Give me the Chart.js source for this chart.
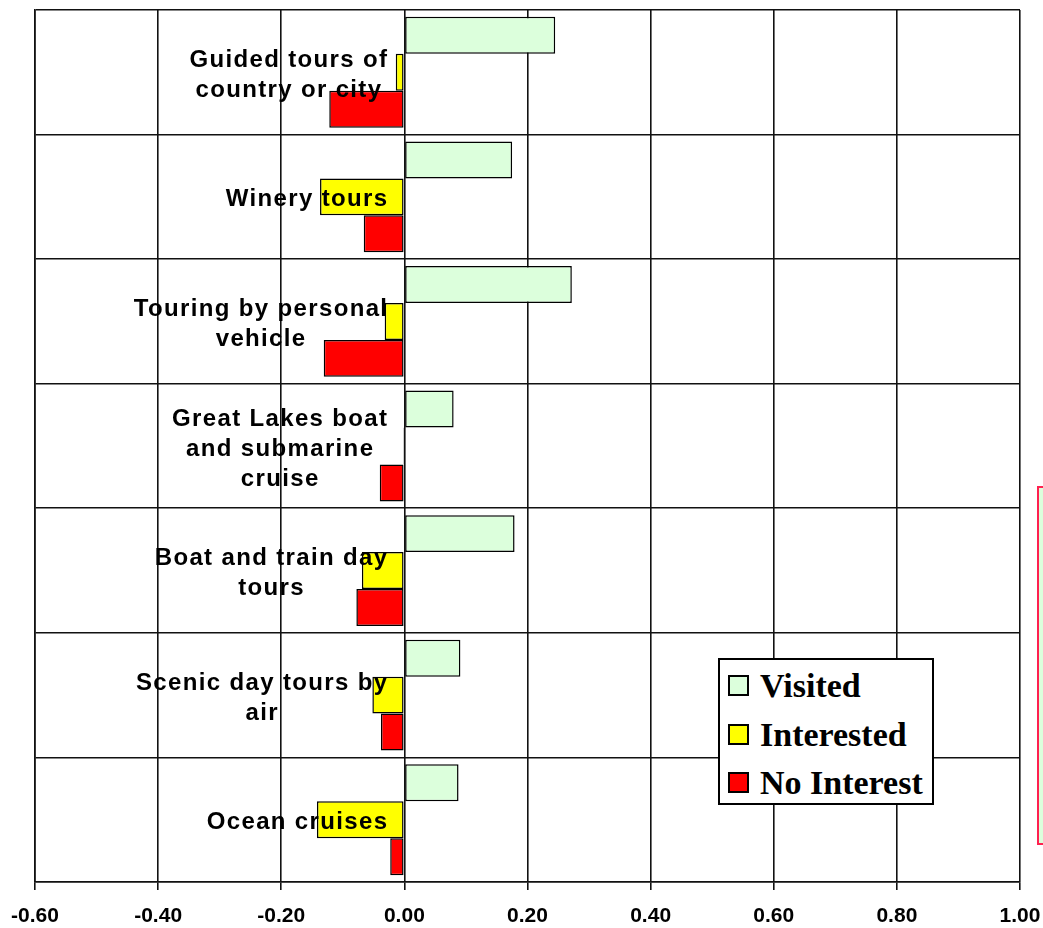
<!DOCTYPE html>
<html lang="en">
<head>
    <meta charset="UTF-8">
    <title>Tour interest</title>
    <script src="https://cdn.jsdelivr.net/npm/chart.js"></script>
    <style>
      body { margin: 0; background: #fff; }
      #wrap { position: relative; width: 1043px; height: 928px; overflow: hidden; }
      #legend {
        position: absolute; left: 718px; top: 658px; width: 212px; height: 143px;
        background: #fff; border: 2px solid #000;
        font: bold 34px "Liberation Serif", "Times New Roman", serif; color: #000;
      }
      #legend div { position: absolute; left: 8px; height: 40px; line-height: 40px; white-space: nowrap; }
      #legend span.box {
        display: inline-block; width: 17px; height: 17px; border: 2px solid #000;
        margin-right: 11px; vertical-align: 1px;
      }
      #sidebox {
        position: absolute; left: 1037px; top: 486px; width: 20px; height: 355px;
        border: 2px solid #ff2050; background: #dcffdc;
      }
    </style>
</head>
<body>
      <div id="wrap">
        <canvas id="myChart"></canvas>
        <div id="legend"></div>
        <div id="sidebox"></div>
      </div>

      <script>
        const categories = [
          ['Guided tours of', 'country or city'],
          ['Winery tours'],
          ['Touring by personal', 'vehicle'],
          ['Great Lakes boat', 'and submarine', 'cruise'],
          ['Boat and train day', 'tours'],
          ['Scenic day tours by', 'air'],
          ['Ocean cruises']
        ]

        const seriesNames = ['Visited', 'Interested', 'No Interest']
        const seriesColors = ['#dcffdc', '#ffff00', '#ff0000']

        const visited    = [0.245, 0.175, 0.272, 0.080, 0.179, 0.091, 0.088]
        const interested = [-0.014, -0.137, -0.032, -0.002, -0.069, -0.052, -0.142]
        const noInterest = [-0.122, -0.066, -0.131, -0.040, -0.078, -0.038, -0.023]

        const xTicks = [-0.6, -0.4, -0.2, 0, 0.2, 0.4, 0.6, 0.8, 1.0]

        // category names sit inside the plot, just left of the zero line, on top of the bars
        const categoryLabels = {
          id: 'categoryLabels',
          afterDatasetsDraw(chart) {
            const ctx = chart.ctx
            const x = chart.scales.x
            const y = chart.scales.y
            const lineH = 30
            ctx.save()
            ctx.font = 'bold 24px "Liberation Sans", Arial, sans-serif'
            ctx.letterSpacing = '1.35px'
            ctx.fillStyle = '#000'
            ctx.textAlign = 'center'
            ctx.textBaseline = 'alphabetic'
            const right = x.getPixelForValue(0) - 16
            chart.data.labels.forEach((lines, i) => {
              const w = Math.max(...lines.map(s => ctx.measureText(s).width))
              const cx = right - w / 2
              const cy = y.getPixelForValue(i)
              lines.forEach((s, j) => {
                ctx.fillText(s, cx, cy + (j - (lines.length - 1) / 2) * lineH + 9.6)
              })
            })
            ctx.restore()
          }
        }

        const ctx = document.getElementById('myChart')

        const grafico = new Chart(ctx, {
          type: 'bar',
          data: {
            labels: categories,
            datasets: [visited, interested, noInterest].map((d, i) => ({
              label: seriesNames[i],
              data: d,
              backgroundColor: seriesColors[i],
              borderColor: '#000',
              borderWidth: 1.5,
              borderSkipped: false,
              categoryPercentage: 0.89,
              barPercentage: 1.0
            }))
          },
          options: {
            indexAxis: 'y',
            responsive: true,
            maintainAspectRatio: false,
            animation: false,
            layout: { padding: { left: 35, right: 23, top: 10, bottom: 0 } },
            plugins: {
              legend: { display: false },
              tooltip: { enabled: false }
            },
            scales: {
              x: {
                min: -0.6,
                max: 1.0,
                afterBuildTicks: axis => { axis.ticks = xTicks.map(v => ({ value: v })) },
                afterFit: axis => {
                  axis.height = 46
                  axis.paddingLeft = 0
                  axis.paddingRight = 0
                },
                grid: { color: '#111', lineWidth: 1.6, tickLength: 8 },
                border: { color: '#111', width: 1.6 },
                ticks: {
                  color: '#000',
                  padding: 14,
                  maxRotation: 0,
                  font: { family: '"Liberation Sans", Arial, sans-serif', size: 21, weight: 'bold' },
                  callback: v => Number(v).toFixed(2)
                }
              },
              y: {
                afterFit: axis => { axis.width = 0 },
                grid: { color: '#111', lineWidth: 1.6, offset: true, drawTicks: false },
                border: { color: '#111', width: 1.6 },
                ticks: { display: false }
              }
            }
          },
          plugins: [categoryLabels]
        })

        // legend box built from the dataset names and colours
        const legend = document.getElementById('legend')
        seriesNames.forEach((name, i) => {
          const row = document.createElement('div')
          row.style.top = (6 + i * 48.7) + 'px'
          row.innerHTML = '<span class="box" style="background:' + seriesColors[i] + '"></span>' + name
          legend.appendChild(row)
        })
      </script>
</body>
</html>
